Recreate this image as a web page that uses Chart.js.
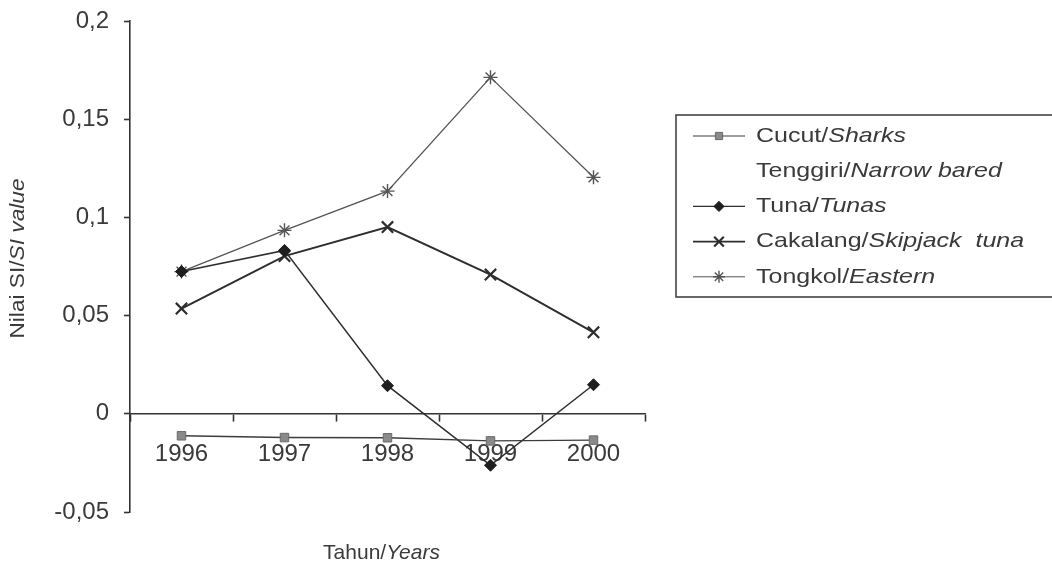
<!DOCTYPE html>
<html>
<head>
<meta charset="utf-8">
<script src="https://cdn.jsdelivr.net/npm/chart.js@4.4.1/dist/chart.umd.min.js"></script>
<style>
  html, body { margin: 0; padding: 0; background: #fff; }
  #wrap { width: 1052px; height: 565px; }
</style>
</head>
<body>
<div id="wrap"><canvas id="c" width="1052" height="565"></canvas></div>
<script>
// Years on the category axis
const years = ['1996', '1997', '1998', '1999', '2000'];

// SI values per species
const cucut    = [-0.0112, -0.0121, -0.0122, -0.0138, -0.0134];
const tenggiri = [null, null, null, null, null];
const tuna     = [0.0724, 0.0832, 0.0143, -0.0262, 0.0148];
const cakalang = [0.0536, 0.0803, 0.0951, 0.0709, 0.0415];
const tongkol  = [0.0724, 0.0934, 0.1134, 0.1713, 0.1204];

// Value-axis ticks (decimal comma)
const yTickValues = [-0.05, 0, 0.05, 0.1, 0.15, 0.2];
const yTickLabels = ['-0,05', '0', '0,05', '0,1', '0,15', '0,2'];

// Series names: [local name, English name in italics]
const seriesNames = [
  ['Cucut/', 'Sharks'],
  ['Tenggiri/', 'Narrow bared'],
  ['Tuna/', 'Tunas'],
  ['Cakalang/', 'Skipjack  tuna'],
  ['Tongkol/', 'Eastern']
];
const yTitle = ['Nilai SI/', 'SI value'];
const xTitle = ['Tahun/', 'Years'];

const FONT = '"Liberation Sans", Arial, Helvetica, sans-serif';
const TEXT = '#3a3a3a';

// Draws "normal" + "italic" text pieces on one baseline
function drawMixed(ctx, parts, x, y, size, align, stretch) {
  ctx.save();
  ctx.fillStyle = TEXT;
  ctx.textBaseline = 'middle';
  ctx.textAlign = 'left';
  const fN = size + 'px ' + FONT, fI = 'italic ' + size + 'px ' + FONT;
  ctx.font = fN; const w1 = ctx.measureText(parts[0]).width;
  ctx.font = fI; const w2 = ctx.measureText(parts[1]).width;
  const total = (w1 + w2) * stretch;
  let sx = x;
  if (align === 'center') sx = x - total / 2;
  ctx.translate(sx, y);
  ctx.scale(stretch, 1);
  ctx.font = fN; ctx.fillText(parts[0], 0, 0);
  ctx.font = fI; ctx.fillText(parts[1], w1, 0);
  ctx.restore();
}

const decorations = {
  id: 'decorations',
  afterDraw(chart) {
    const ctx = chart.ctx;
    const area = chart.chartArea;

    // Axis titles
    drawMixed(ctx, xTitle, (area.left + area.right) / 2 - 6, area.bottom + 41, 21, 'center', 1);
    ctx.save();
    ctx.translate(18, (area.top + area.bottom) / 2 - 8);
    ctx.rotate(-Math.PI / 2);
    drawMixed(ctx, yTitle, 0, 0, 21, 'center', 1.08);
    ctx.restore();

    // Legend box
    const bx = 676, by = 115, bw = 400, bh = 182;
    ctx.save();
    ctx.strokeStyle = '#444';
    ctx.lineWidth = 1.6;
    ctx.strokeRect(bx, by, bw, bh);
    ctx.restore();

    const rowTop = 136, rowGap = 35.2;
    chart.data.datasets.forEach((ds, i) => {
      const y = rowTop + i * rowGap;
      if (ds.legendSample !== false) {
        ctx.save();
        ctx.strokeStyle = ds.borderColor;
        ctx.lineWidth = Math.max(1, ds.borderWidth - 0.3);
        ctx.beginPath();
        ctx.moveTo(693, y);
        ctx.lineTo(745, y);
        ctx.stroke();
        ctx.fillStyle = ds.pointBackgroundColor;
        ctx.strokeStyle = ds.pointBorderColor;
        ctx.lineWidth = ds.pointBorderWidth;
        Chart.helpers.drawPoint(ctx, {
          pointStyle: ds.pointStyle,
          rotation: 0,
          radius: ds.pointRadius * 0.85,
          borderWidth: ds.pointBorderWidth
        }, 719, y);
        ctx.restore();
      }
      drawMixed(ctx, seriesNames[i], 756, y, 21, 'left', 1.19);
    });
  }
};

const datasets = [
  {
    data: cucut,
    borderColor: '#3c3c3c', borderWidth: 1.4,
    pointStyle: 'rect', pointRadius: 6,
    pointBackgroundColor: '#8a8a8a', pointBorderColor: '#6a6a6a', pointBorderWidth: 1
  },
  {
    data: tenggiri,
    borderColor: 'rgba(0,0,0,0)', borderWidth: 0, showLine: false,
    pointRadius: 0, legendSample: false
  },
  {
    data: tuna,
    borderColor: '#2e2e2e', borderWidth: 1.5,
    pointStyle: 'rectRot', pointRadius: 6,
    pointBackgroundColor: '#1e1e1e', pointBorderColor: '#1e1e1e', pointBorderWidth: 1
  },
  {
    data: cakalang,
    borderColor: '#2e2e2e', borderWidth: 2,
    pointStyle: 'crossRot', pointRadius: 8,
    pointBackgroundColor: '#2e2e2e', pointBorderColor: '#2e2e2e', pointBorderWidth: 2.2
  },
  {
    data: tongkol,
    borderColor: '#555', borderWidth: 1.3,
    pointStyle: 'star', pointRadius: 7,
    pointBackgroundColor: '#555', pointBorderColor: '#555', pointBorderWidth: 1.4
  }
];

new Chart(document.getElementById('c'), {
  type: 'line',
  data: {
    labels: years,
    datasets: datasets.map((d, i) => Object.assign({ label: seriesNames[i].join(''), fill: false, tension: 0 }, d))
  },
  options: {
    responsive: false,
    animation: false,
    events: [],
    layout: { padding: { left: 0, top: 21, right: 407, bottom: 53 } },
    plugins: {
      legend: { display: false },
      tooltip: { enabled: false }
    },
    scales: {
      x: {
        type: 'category',
        position: { y: 0 },
        offset: true,
        afterFit(scale) { scale.paddingLeft = 0; scale.paddingRight = 0; scale.paddingTop = 0; scale.paddingBottom = 0; },
        grid: {
          offset: true,
          drawOnChartArea: false,
          drawTicks: true,
          tickLength: 7,
          tickWidth: 1.6,
          tickColor: '#333'
        },
        border: { display: true, color: '#333', width: 1.6 },
        ticks: {
          font: { family: FONT, size: 24 },
          color: TEXT,
          padding: 19,
          maxRotation: 0
        }
      },
      y: {
        min: -0.05,
        max: 0.2,
        afterFit(scale) { scale.width = 130; scale.paddingTop = 0; scale.paddingBottom = 0; },
        afterBuildTicks(scale) { scale.ticks = yTickValues.map(v => ({ value: v })); },
        grid: {
          drawOnChartArea: false,
          drawTicks: true,
          tickLength: 6,
          tickWidth: 1.6,
          tickColor: '#333'
        },
        border: { display: true, color: '#333', width: 1.6 },
        ticks: {
          font: { family: FONT, size: 24 },
          color: TEXT,
          padding: 15,
          callback: (value, index) => yTickLabels[index]
        }
      }
    }
  },
  plugins: [decorations]
});
</script>
</body>
</html>
